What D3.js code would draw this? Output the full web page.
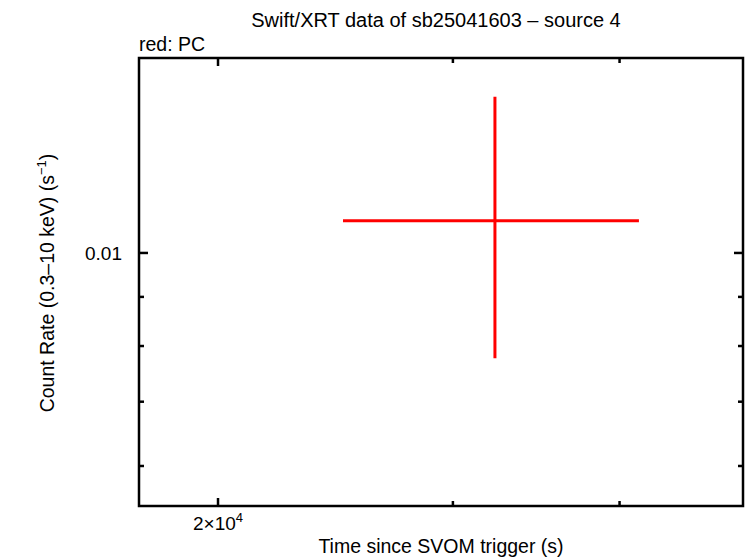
<!DOCTYPE html>
<html>
<head>
<meta charset="utf-8">
<script src="https://cdn.jsdelivr.net/npm/d3@7"></script>
<style>
body { margin: 0; background: #fff; }
text { font-family: "Liberation Sans", Arial, sans-serif; fill: #000; }
</style>
</head>
<body>
<div class="chart"></div>
<script>
// DATA
var timeVals = [32258];
var timeLo = [24816];
var timeHi = [41360];
var rateVals = [0.0108];
var rateLo = [0.00777];
var rateHi = [0.01454];
var xMajorTicks = [20000];
var xMinorTicks = [30000, 40000];
var yMajorTicks = [0.01];
var yMinorTicks = [0.006, 0.007, 0.008, 0.009];

var width = 746, height = 558;
var margin = { top: 58, right: 3, bottom: 52, left: 139 };

var svg = d3.select(".chart")
	.append("svg")
	.attr("width", width)
	.attr("height", height);

var x = d3.scaleLog()
	.domain([17450, 49500])
	.range([margin.left, width - margin.right]);

var y = d3.scaleLog()
	.domain([0.005451, 0.01596])
	.range([height - margin.bottom, margin.top]);

var plot = svg.append("g");

// ticks on all four sides
function drawTicks(vals, len) {
	vals.forEach(function(v) {
		plot.append("line").attr("x1", x(v)).attr("x2", x(v))
			.attr("y1", y.range()[0]).attr("y2", y.range()[0] - len);
		plot.append("line").attr("x1", x(v)).attr("x2", x(v))
			.attr("y1", y.range()[1]).attr("y2", y.range()[1] + len);
	});
}
function drawYTicks(vals, len) {
	vals.forEach(function(v) {
		plot.append("line").attr("y1", y(v)).attr("y2", y(v))
			.attr("x1", x.range()[0]).attr("x2", x.range()[0] + len);
		plot.append("line").attr("y1", y(v)).attr("y2", y(v))
			.attr("x1", x.range()[1]).attr("x2", x.range()[1] - len);
	});
}
drawTicks(xMajorTicks, 8);
drawTicks(xMinorTicks, 5);
drawYTicks(yMajorTicks, 9);
drawYTicks(yMinorTicks, 5);
plot.selectAll("line").attr("stroke", "#000").attr("stroke-width", 2.5);

// frame
svg.append("rect")
	.attr("x", x.range()[0])
	.attr("y", y.range()[1])
	.attr("width", x.range()[1] - x.range()[0])
	.attr("height", y.range()[0] - y.range()[1])
	.attr("fill", "none")
	.attr("stroke", "#000")
	.attr("stroke-width", 2.5);

// tick labels
var xl = svg.append("text")
	.attr("x", x(xMajorTicks[0]))
	.attr("y", 530)
	.attr("text-anchor", "middle")
	.style("font-size", "19px");
xl.append("tspan").text("2\u00d710");
xl.append("tspan").attr("dy", -8).style("font-size", "13px").text("4");

yMajorTicks.forEach(function(v) {
	svg.append("text")
		.attr("x", 122)
		.attr("y", y(v) + 7)
		.attr("text-anchor", "end")
		.style("font-size", "19px")
		.text("0.01");
});

// data
var pts = timeVals.map(function(t, i) {
	return { t: t, t0: timeLo[i], t1: timeHi[i], r: rateVals[i], r0: rateLo[i], r1: rateHi[i] };
});
var g = svg.append("g").attr("stroke", "#ff0000").attr("stroke-width", 3);
pts.forEach(function(d) {
	g.append("line").attr("x1", x(d.t0)).attr("x2", x(d.t1)).attr("y1", y(d.r)).attr("y2", y(d.r));
	g.append("line").attr("x1", x(d.t)).attr("x2", x(d.t)).attr("y1", y(d.r0)).attr("y2", y(d.r1));
});

// titles
svg.append("text")
	.attr("x", 436).attr("y", 27)
	.attr("text-anchor", "middle")
	.style("font-size", "20px")
	.text("Swift/XRT data of sb25041603 \u2013 source 4");

svg.append("text")
	.attr("x", 139).attr("y", 51)
	.style("font-size", "19.5px")
	.text("red: PC");

svg.append("text")
	.attr("x", 441).attr("y", 553)
	.attr("text-anchor", "middle")
	.style("font-size", "19.5px")
	.text("Time since SVOM trigger (s)");

var yl = svg.append("text")
	.attr("transform", "translate(54," + 283 + ") rotate(-90)")
	.attr("text-anchor", "middle")
	.style("font-size", "19.5px");
yl.append("tspan").text("Count Rate (0.3\u201310 keV) (s");
yl.append("tspan").attr("dy", -8).style("font-size", "13px").text("\u22121");
yl.append("tspan").attr("dy", 8).text(")");
</script>
</body>
</html>
